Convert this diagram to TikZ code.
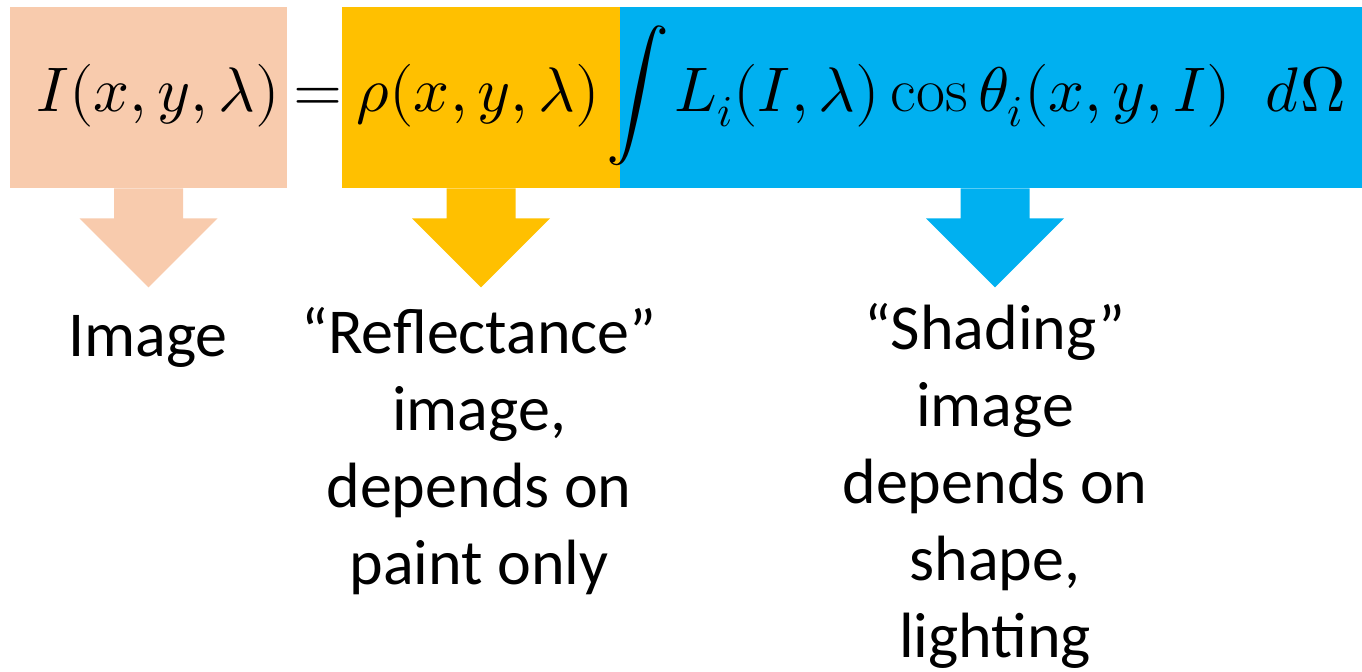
\documentclass[tikz,border=0pt]{standalone}
\usepackage{fontspec}
\usepackage{unicode-math}
\setmainfont{Carlito}
\setmathfont{Latin Modern Math}
\setmathrm{Latin Modern Roman}
\definecolor{imgpeach}{HTML}{F8CBAD}
\definecolor{reflorange}{HTML}{FFC000}
\definecolor{shadeblue}{HTML}{00B0F0}

\begin{document}
\begin{tikzpicture}[x=0.5pt,y=-0.5pt,
part box/.style={fill=#1,inner sep=0pt,minimum height=90.5pt},
eq part/.style={inner sep=0pt,anchor=base,font=\fontsize{31.5pt}{38pt}\selectfont},
note/.style={inner sep=0pt,anchor=base,align=center,font=\fontsize{32pt}{38.5pt}\selectfont},
down arrow/.pic={\fill[pic actions] (-34.5,0) -- (34.5,0) -- (34.5,30) -- (69,30) -- (0,99) -- (-69,30) -- (-34.5,30) -- cycle;}]
\useasboundingbox (0,0) rectangle (1362,671);
% coloured parts of the formula
\node[part box=imgpeach,minimum width=138.5pt] (imgbox) at (148.5,97.5) {};
\node[part box=reflorange,minimum width=139pt] (reflbox) at (481,97.5) {};
\node[part box=shadeblue,minimum width=371pt] (shadebox) at (991,97.5) {};
\node[eq part] (eqimg) at (158,111) {$I(x,y,\lambda)$};
\node[eq part] (eqsign) at (318,111) {$=$};
\node[eq part] (eqrefl) at (478,111) {$\rho(x,y,\lambda)$};
\node[eq part] (eqint) at (638,111) {$\displaystyle\int$};
\node[eq part] (eqshade) at (1010,111) {$L_i(I,\lambda)\cos\theta_i(x,y,I)\;\;d\Omega$};
% arrows and meanings (base = last line)
\pic[fill=imgpeach] at (imgbox.south) {down arrow};
\pic[fill=reflorange] at (reflbox.south) {down arrow};
\pic[fill=shadeblue] at ([xshift=2pt]shadebox.south) {down arrow};
\node[note] (noteimg) at (148,356) {Image};
\node[note] (noterefl) at (479,584) {“Reflectance”\\image,\\depends on\\paint only};
\node[note] (noteshade) at (995,657) {“Shading”\\image\\depends on\\shape,\\lighting};
\end{tikzpicture}
\end{document}
